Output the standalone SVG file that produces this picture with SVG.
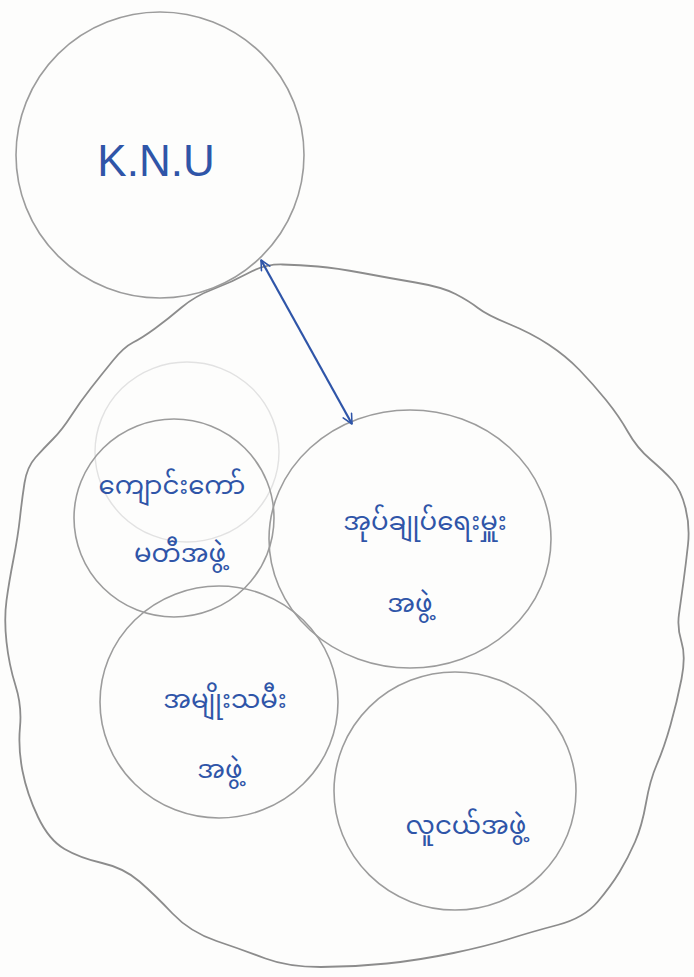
<svg xmlns="http://www.w3.org/2000/svg" width="694" height="977" viewBox="0 0 694 977">
<style>
.bg{fill:#fdfdfc}
.ring{fill:none;stroke:#9c9c9c;stroke-width:1.6}
.ghost{fill:none;stroke:#e2e2e2;stroke-width:1.4}
.blob{fill:none;stroke:#8c8c8c;stroke-width:1.8;stroke-linejoin:round}
.lbl{fill:#2f55a8;font-family:"Noto Sans Myanmar","Padauk","Myanmar Text","Noto Sans",sans-serif;font-size:26px;text-anchor:middle}
.knu{fill:#2f55a8;font-family:"Liberation Sans",sans-serif;font-size:44px;text-anchor:middle}
.conn{fill:none;stroke:#2f55a8;stroke-width:2.2}
</style>
<defs>
<marker id="arr" viewBox="0 0 20 20" refX="18" refY="10" markerWidth="12" markerHeight="12" markerUnits="userSpaceOnUse" orient="auto-start-reverse">
<path d="M2,2 L18,10 L2,18" fill="none" stroke="#2f55a8" stroke-width="2.6" stroke-linecap="round" stroke-linejoin="round"/>
</marker>
</defs>
<rect class="bg" x="0" y="0" width="694" height="977"/>
<path id="blob" class="blob" d="M181.5,307.5 Q195,296 213.5,289 Q232,282 248.5,273 Q265,264 282.5,264.5 Q300,265 318,266.5 Q336,268 362.5,273 Q389,278 415.5,282.5 Q442,287 455.5,294 Q469,301 478,308 Q487,315 509,324 Q531,333 548.5,344.5 Q566,356 579.5,370 Q593,384 606,400 Q619,416 628,432 Q637,448 650.5,459.5 Q664,471 672.5,480.5 Q681,490 685.5,508 Q690,526 688,544.5 Q686,563 683.5,581.5 Q681,600 679,614 Q677,628 681.5,642 Q686,656 681.5,679 Q677,702 670.5,725 Q664,748 657,764 Q650,780 646,803 Q642,826 635,842 Q628,858 619.5,872 Q611,886 597.5,902 Q584,918 557.5,925 Q531,932 509,939 Q487,946 453.5,953 Q420,960 387,963.5 Q354,967 321,967 Q288,967 265.5,958.5 Q243,950 216.5,941 Q190,932 172.5,913.5 Q155,895 139.5,881.5 Q124,868 102,863 Q80,858 64.5,849 Q49,840 38,817 Q27,794 22.5,771 Q18,748 20,727 Q22,706 15.5,685.5 Q9,665 6.5,642 Q4,619 6.5,600.5 Q9,582 13.5,559 Q18,536 20,517.5 Q22,499 24.5,483 Q27,467 35.5,457.5 Q44,448 53,439 Q62,430 71,416 Q80,402 91,388 Q102,374 113,360.5 Q124,347 133,342.5 Q142,338 155,328.5 Q168,319 181.5,307.5 Z"/>
<ellipse class="ghost" cx="187" cy="452" rx="92" ry="90"/>
<g id="knu">
<ellipse class="ring" cx="160" cy="155" rx="144" ry="143"/>
<text class="knu" x="156" y="176">K.N.U</text>
</g>
<g id="school-committee">
<ellipse class="ring" cx="174" cy="518" rx="100" ry="99"/>
<text class="lbl" x="172" y="494">ကျောင်းကော်</text>
<text class="lbl" x="180" y="562">မတီအဖွဲ့</text>
</g>
<g id="administration">
<ellipse class="ring" cx="410" cy="539" rx="141" ry="129"/>
<text class="lbl" x="425" y="530">အုပ်ချုပ်ရေးမှူး</text>
<text class="lbl" x="410" y="612">အဖွဲ့</text>
</g>
<g id="women">
<ellipse class="ring" cx="219" cy="702" rx="119" ry="116"/>
<text class="lbl" x="225" y="708">အမျိုးသမီး</text>
<text class="lbl" x="220" y="778">အဖွဲ့</text>
</g>
<g id="youth">
<ellipse class="ring" cx="455" cy="791" rx="121" ry="119"/>
<text class="lbl" x="466" y="834">လူငယ်အဖွဲ့</text>
</g>
<g id="connectors">
<line class="conn" x1="261" y1="260" x2="352" y2="424" marker-start="url(#arr)" marker-end="url(#arr)"/>
</g>
</svg>
